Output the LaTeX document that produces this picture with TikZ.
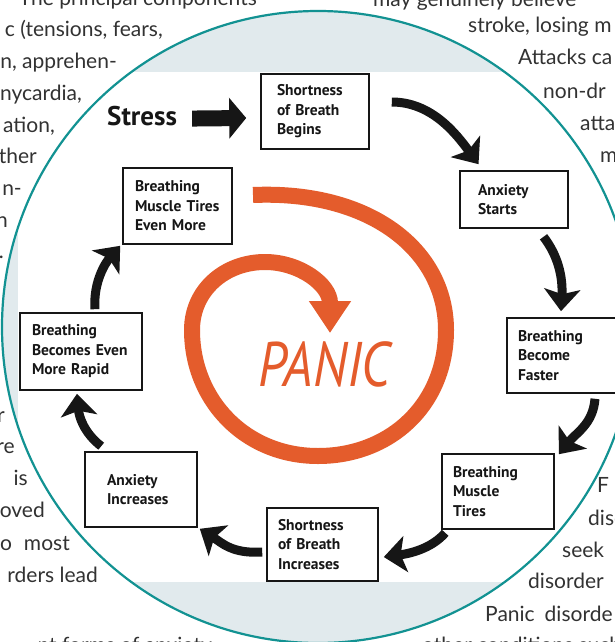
\documentclass[tikz,border=0pt]{standalone}
\usepackage{fontspec}
\setmainfont{Lato}
\newfontfamily\boxfont{PT Sans}
\usetikzlibrary{arrows.meta,calc}
\definecolor{pagetext}{RGB}{50,50,50}
\definecolor{ringfill}{RGB}{225,234,237}
\definecolor{ringline}{RGB}{18,146,146}
\definecolor{panicorange}{RGB}{228,92,44}
\definecolor{boxink}{RGB}{22,22,22}

\begin{document}
\begin{tikzpicture}[x=1pt, y=-1pt,
  stepbox/.style={draw=boxink, line width=1.6pt, inner sep=0pt, align=left, text=boxink,
    font=\boxfont\bfseries\fontsize{15.5}{19.5}\selectfont},
  leftline/.style={anchor=base east, inner sep=0pt, text=pagetext, font=\fontsize{21}{25}\selectfont},
  rightline/.style={anchor=base west, inner sep=0pt, text=pagetext, font=\fontsize{21}{25}\selectfont},
  fatarrow/.style={draw=boxink, line width=9pt, -{Stealth[length=22pt,width=36pt,inset=5pt]}},
  stressarrow/.style={draw=boxink, line width=16pt, -{Triangle[length=17pt,width=40pt]}},
  spiral/.style={draw=panicorange, line width=16pt, -{Triangle[length=32pt,width=40pt]}}]
  \useasboundingbox (0,0) rectangle (615,642);
  \clip (0,0) rectangle (615,642);
  \fill[white] (0,0) rectangle (615,642);

  \node[leftline] (l1) at (257,6) {The principal components};
  \node[leftline] (l2) at (163,37) {c (tensions, fears,};
  \node[leftline] (l3) at (117,68) {n, apprehen-};
  \node[leftline] (l4) at (82,100) {nycardia,};
  \node[leftline] (l5) at (55,132) {ation,};
  \node[leftline] (l6) at (37,163) {ther};
  \node[leftline] (l7) at (22,195) {n-};
  \node[leftline] (l8) at (8,227) {n};
  \node[leftline] (l9) at (4,258) {.};
  \node[leftline] (l10) at (5,422) {r};
  \node[leftline] (l11) at (15,453) {re};
  \node[leftline] (l12) at (28,485) {is};
  \node[leftline] (l13) at (45,517) {oved};
  \node[leftline] (l14) at (70,550) {o\hspace{12pt}most};
  \node[leftline] (l15) at (98,582) {rders lead};
  \node[leftline] (l16) at (212,652) {nt forms of anxiety};
  \node[rightline] (r1) at (373,7) {may genuinely believe};
  \node[rightline] (r2) at (468,33) {stroke, losing m};
  \node[rightline] (r3) at (518,65) {Attacks ca};
  \node[rightline] (r4) at (543,98) {non-dr};
  \node[rightline] (r5) at (580,130) {atta};
  \node[rightline] (r6) at (600,162) {m};
  \node[rightline] (r7) at (597,492) {F};
  \node[rightline] (r8) at (588,525) {disc};
  \node[rightline] (r9) at (562,557) {seek};
  \node[rightline] (r10) at (528,588) {disorder};
  \node[rightline] (r11) at (485,621) {Panic\hspace{10pt}disorde};
  \node[rightline] (r12) at (422,652) {other conditions such};

  \fill[ringfill] (318,327) circle (316);
  \begin{scope}
    \clip (318,327) circle (316);
    \fill[white] (18,72) rectangle (640,582);
  \end{scope}
  \draw[ringline, line width=2.2pt] (318,327) circle (316);

  \draw[spiral] (253,195) .. controls (370,190) and (446,250) .. (446,330)
    .. controls (446,405) and (390,456) .. (318,456)
    .. controls (245,456) and (192,400) .. (192,330)
    .. controls (192,290) and (225,262) .. (265,262)
    .. controls (300,262) and (330,285) .. (330,333);
  \node[anchor=base, inner sep=0pt, text=panicorange, font=\boxfont\itshape\fontsize{63}{63}\selectfont] (panic) at (324.5,386) {\scalebox{0.84}[1]{PANIC}};

  \node[anchor=base west, inner sep=0pt, text=boxink, font=\boxfont\bfseries\fontsize{27}{27}\selectfont] (stress) at (107,125) {Stress};
  \node[stepbox, minimum width=108pt, minimum height=75pt, text width=76pt] (begins) at (315,111.5) {Shortness\\of~Breath\\Begins};
  \node[stepbox, minimum width=108pt, minimum height=57pt, text width=72pt] (starts) at (514,199.5) {Anxiety\\Starts};
  \node[stepbox, minimum width=115pt, minimum height=75pt, text width=93pt] (faster) at (564.5,355.5) {Breathing\\Become\\Faster};
  \node[stepbox, minimum width=112pt, minimum height=75pt, text width=90pt] (tires) at (498,491.5) {Breathing\\Muscle\\Tires};
  \node[stepbox, minimum width=111pt, minimum height=73pt, text width=89pt] (shortinc) at (322.5,544.5) {Shortness\\of~Breath\\Increases};
  \node[stepbox, minimum width=112pt, minimum height=75pt, text width=68pt] (anxinc) at (141,489.5) {Anxiety\\Increases};
  \node[stepbox, minimum width=122pt, minimum height=77pt, text width=98pt] (rapid) at (81,351.5) {Breathing\\Becomes~Even\\More~Rapid};
  \node[stepbox, minimum width=109pt, minimum height=76pt, text width=85pt] (evenmore) at (177.5,206) {Breathing\\Muscle~Tires\\Even~More};

  \draw[stressarrow] ($(stress.east)+(15,3)$) -- ($(begins.west)+(-14,6.5)$);
  \draw[fatarrow] ($(begins.east)+(22,-9.5)$) .. controls +(40,0) and +(-22,-30) .. ($(starts.north)+(-35.5,-6)$);
  \draw[fatarrow] ($(starts.south)+(29.5,8)$) .. controls +(14,18) and +(2,-35) .. ($(faster.north)+(-3.5,-6)$);
  \draw[fatarrow] ($(faster.south)+(30.5,5)$) .. controls +(-2,25) and +(18,-22) .. ($(tires.north east)+(4,1)$);
  \draw[fatarrow] ($(tires.south west)+(4,3)$) .. controls +(-12,14) and +(30,-4) .. ($(shortinc.east)+(5,12.5)$);
  \draw[fatarrow] ($(shortinc.west)+(-4,7.5)$) .. controls +(-30,2) and +(22,14) .. ($(anxinc.south east)+(2,1)$);
  \draw[fatarrow] ($(anxinc.north west)+(17,-5)$) .. controls +(-18,-14) and +(2,22) .. ($(rapid.south)+(-4,3)$);
  \draw[fatarrow] ($(rapid.north)+(14,-3)$) .. controls +(-2,-28) and +(-14,16) .. ($(evenmore.south west)+(-2,1)$);
\end{tikzpicture}
\end{document}
